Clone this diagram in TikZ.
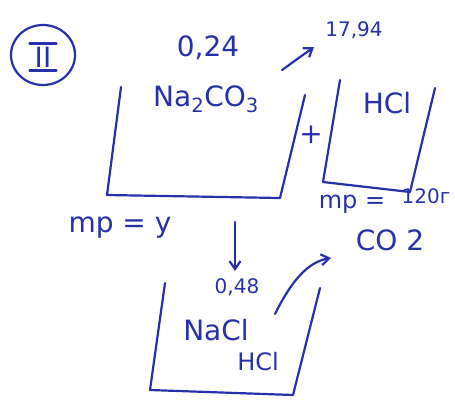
\documentclass[tikz,border=0pt]{standalone}
\usepackage{fontspec}
\setmainfont{DejaVu Sans}
\usetikzlibrary{arrows.meta}
\definecolor{ink}{RGB}{38,48,168}
\begin{document}
\begin{tikzpicture}[x=1pt,y=-1pt,
  inkline/.style={draw=ink,line width=2.2pt,line cap=round,line join=round},
  lbl/.style={text=ink,inner sep=1pt,font=\fontsize{28}{30}\selectfont},
  mid/.style={text=ink,inner sep=1pt,font=\fontsize{24}{26}\selectfont},
  small/.style={text=ink,inner sep=1pt,font=\fontsize{20}{22}\selectfont},
  arr/.style={inkline,-{Straight Barb[length=8pt,width=11pt]}}]
\useasboundingbox (0,0) rectangle (455,400);
% circled II
\draw[inkline] (43,55) ellipse[x radius=32,y radius=30];
\node[text=ink,font=\fontsize{28}{30}\selectfont\rmfamily,inner sep=0pt] (roman) at (43,57) {II};
\draw[inkline] ([xshift=-5pt,yshift=3pt]roman.north west) -- ([xshift=5pt,yshift=3pt]roman.north east);
\draw[inkline] ([xshift=-5pt,yshift=-3pt]roman.south west) -- ([xshift=5pt,yshift=-3pt]roman.south east);
% big box (open top)
\coordinate (b1) at (121,87); \coordinate (b2) at (107,195);
\coordinate (b3) at (280,198); \coordinate (b4) at (305,95);
\draw[inkline] (b1) -- (b2) -- (b3) -- (b4);
\node[lbl] (n024) at (208,48) {0,24};
\node[lbl] (na2co3) at (206,99) {Na\textsubscript{2}CO\textsubscript{3}};
\coordinate (a1s) at (282,70); \coordinate (a1e) at (314,47);
\draw[arr] (a1s) -- (a1e);
\node[small] (m1794) at (354,30) {17,94};
\node[lbl] (plus) at (311,135) {+};
% right box
\coordinate (c1) at (340,80); \coordinate (c2) at (323,182);
\coordinate (c3) at (410,192); \coordinate (c4) at (435,88);
\draw[inkline] (c1) -- (c2) -- (c3) -- (c4);
\node[lbl] (hcl) at (387,103) {HCl};
% labels under boxes
\node[lbl] (mpy) at (120,228) {mр = y};
\node[mid] (mp120) at (352,204) {mр =};
\node[small] (g120) at (426,196) {120г};
\node[lbl] (co2) at (390,240) {CO 2};
% arrows to bottom box
\coordinate (d1) at (235,222); \coordinate (d2) at (235,271);
\draw[arr] (d1) -- (d2);
\node[small] (n048) at (237,287) {0,48};
\coordinate (e1) at (275,314); \coordinate (e2) at (331,258);
\draw[arr] (e1) .. controls (292,280) and (308,262) .. (e2);
% bottom box
\coordinate (f1) at (165,283); \coordinate (f2) at (150,390);
\coordinate (f3) at (293,395); \coordinate (f4) at (320,288);
\draw[inkline] (f1) -- (f2) -- (f3) -- (f4);
\node[lbl] (nacl) at (216,330) {NaCl};
\node[mid] (hcl2) at (258,362) {HCl};
\end{tikzpicture}
\end{document}
